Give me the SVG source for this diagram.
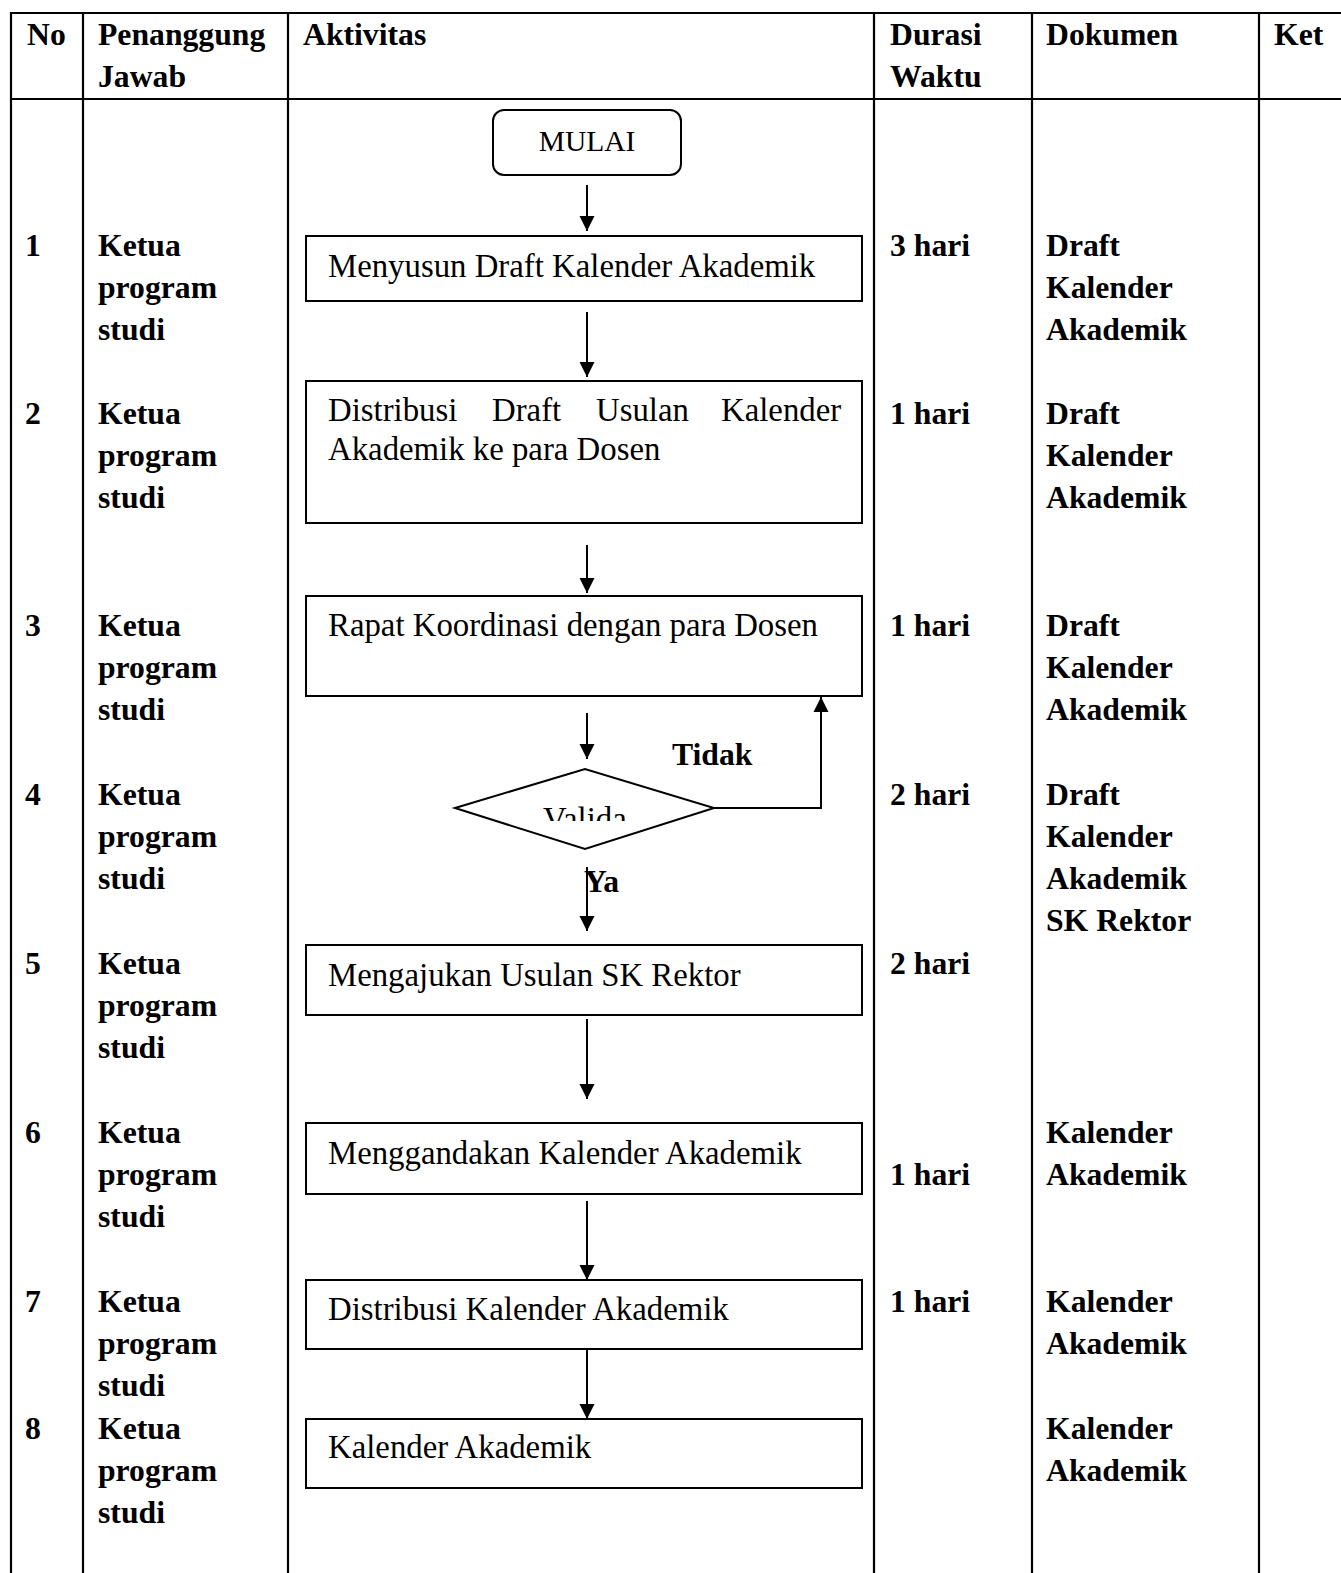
<svg xmlns="http://www.w3.org/2000/svg" width="1341" height="1573" viewBox="0 0 1341 1573">
<style>
.b{font-family:"Liberation Serif","Times New Roman",serif;font-weight:bold;font-size:31.7px;fill:#000}
.r{font-family:"Liberation Serif","Times New Roman",serif;font-size:32.8px;fill:#000}
.tl{stroke:#000;stroke-width:2.2;fill:none}
.box{stroke:#000;stroke-width:2;fill:#fff}
.con{stroke:#000;stroke-width:2;fill:none}
</style>
<defs>
<marker id="ah" markerUnits="userSpaceOnUse" markerWidth="16" markerHeight="16" viewBox="0 0 16 16" refX="15" refY="8" orient="auto">
<path d="M0,0.5 L15,8 L0,15.5 Z" fill="#000"/>
</marker>
<clipPath id="vclip"><rect x="530" y="800" width="110" height="21"/></clipPath>
</defs>
<rect width="1341" height="1573" fill="#fff"/>
<g id="table">
<line class="tl" x1="11" y1="13" x2="1341" y2="13"/>
<line class="tl" x1="11" y1="99" x2="1341" y2="99"/>
<line class="tl" x1="11" y1="12" x2="11" y2="1573"/>
<line class="tl" x1="83" y1="12" x2="83" y2="1573"/>
<line class="tl" x1="288" y1="12" x2="288" y2="1573"/>
<line class="tl" x1="874" y1="12" x2="874" y2="1573"/>
<line class="tl" x1="1032" y1="12" x2="1032" y2="1573"/>
<line class="tl" x1="1259" y1="12" x2="1259" y2="1573"/>
</g>
<g id="header">
<text class="b" x="27" y="45">No</text>
<text class="b" x="98" y="45">Penanggung</text>
<text class="b" x="98" y="87">Jawab</text>
<text class="b" x="303" y="45">Aktivitas</text>
<text class="b" x="890" y="45">Durasi</text>
<text class="b" x="890" y="87">Waktu</text>
<text class="b" x="1046" y="45">Dokumen</text>
<text class="b" x="1274" y="45">Ket</text>
</g>
<g id="col-no">
<text class="b" x="25" y="256">1</text>
<text class="b" x="25" y="424">2</text>
<text class="b" x="25" y="636">3</text>
<text class="b" x="25" y="805">4</text>
<text class="b" x="25" y="974">5</text>
<text class="b" x="25" y="1143">6</text>
<text class="b" x="25" y="1312">7</text>
<text class="b" x="25" y="1439">8</text>
</g>
<g id="col-pj">
<text class="b" x="98" y="256">Ketua</text><text class="b" x="98" y="298">program</text><text class="b" x="98" y="340">studi</text>
<text class="b" x="98" y="424">Ketua</text><text class="b" x="98" y="466">program</text><text class="b" x="98" y="508">studi</text>
<text class="b" x="98" y="636">Ketua</text><text class="b" x="98" y="678">program</text><text class="b" x="98" y="720">studi</text>
<text class="b" x="98" y="805">Ketua</text><text class="b" x="98" y="847">program</text><text class="b" x="98" y="889">studi</text>
<text class="b" x="98" y="974">Ketua</text><text class="b" x="98" y="1016">program</text><text class="b" x="98" y="1058">studi</text>
<text class="b" x="98" y="1143">Ketua</text><text class="b" x="98" y="1185">program</text><text class="b" x="98" y="1227">studi</text>
<text class="b" x="98" y="1312">Ketua</text><text class="b" x="98" y="1354">program</text><text class="b" x="98" y="1396">studi</text>
<text class="b" x="98" y="1439">Ketua</text><text class="b" x="98" y="1481">program</text><text class="b" x="98" y="1523">studi</text>
</g>
<g id="col-durasi">
<text class="b" x="890" y="256">3 hari</text>
<text class="b" x="890" y="424">1 hari</text>
<text class="b" x="890" y="636">1 hari</text>
<text class="b" x="890" y="805">2 hari</text>
<text class="b" x="890" y="974">2 hari</text>
<text class="b" x="890" y="1185">1 hari</text>
<text class="b" x="890" y="1312">1 hari</text>
</g>
<g id="col-dokumen">
<text class="b" x="1046" y="256">Draft</text><text class="b" x="1046" y="298">Kalender</text><text class="b" x="1046" y="340">Akademik</text>
<text class="b" x="1046" y="424">Draft</text><text class="b" x="1046" y="466">Kalender</text><text class="b" x="1046" y="508">Akademik</text>
<text class="b" x="1046" y="636">Draft</text><text class="b" x="1046" y="678">Kalender</text><text class="b" x="1046" y="720">Akademik</text>
<text class="b" x="1046" y="805">Draft</text><text class="b" x="1046" y="847">Kalender</text><text class="b" x="1046" y="889">Akademik</text><text class="b" x="1046" y="931">SK Rektor</text>
<text class="b" x="1046" y="1143">Kalender</text><text class="b" x="1046" y="1185">Akademik</text>
<text class="b" x="1046" y="1312">Kalender</text><text class="b" x="1046" y="1354">Akademik</text>
<text class="b" x="1046" y="1439">Kalender</text><text class="b" x="1046" y="1481">Akademik</text>
</g>
<g id="connectors">
<line class="con" x1="587" y1="185" x2="587" y2="231" marker-end="url(#ah)"/>
<line class="con" x1="587" y1="312" x2="587" y2="377" marker-end="url(#ah)"/>
<line class="con" x1="587" y1="545" x2="587" y2="593" marker-end="url(#ah)"/>
<line class="con" x1="587" y1="713" x2="587" y2="759" marker-end="url(#ah)"/>
<polyline class="con" points="714,808 821,808 821,697" marker-end="url(#ah)"/>
<line class="con" x1="587" y1="867" x2="587" y2="931" marker-end="url(#ah)"/>
<line class="con" x1="587" y1="1019" x2="587" y2="1099" marker-end="url(#ah)"/>
<line class="con" x1="587" y1="1201" x2="587" y2="1280" marker-end="url(#ah)"/>
<line class="con" x1="587" y1="1340" x2="587" y2="1419" marker-end="url(#ah)"/>
<text class="b" x="672" y="765">Tidak</text>
<text class="b" x="584" y="892">Ya</text>
</g>
<g id="mulai">
<rect class="box" x="493" y="110" width="188" height="65" rx="11"/>
<text class="r" x="587" y="151" text-anchor="middle" style="font-size:29.5px">MULAI</text>
</g>
<g id="step1">
<rect class="box" x="306" y="236" width="556" height="65"/>
<text class="r" x="328" y="277">Menyusun Draft Kalender Akademik</text>
</g>
<g id="step2">
<rect class="box" x="306" y="381" width="556" height="142"/>
<text class="r" y="421"><tspan x="328">Distribusi</tspan><tspan x="492">Draft</tspan><tspan x="596">Usulan</tspan><tspan x="721">Kalender</tspan></text>
<text class="r" x="328" y="460">Akademik ke para Dosen</text>
</g>
<g id="step3">
<rect class="box" x="306" y="596" width="556" height="100"/>
<text class="r" x="328" y="636">Rapat Koordinasi dengan para Dosen</text>
</g>
<g id="decision">
<polygon class="box" points="455,808 585,769 714,808 585,849"/>
<text class="r" x="543" y="830" clip-path="url(#vclip)">Valida</text>
</g>
<g id="step5">
<rect class="box" x="306" y="945" width="556" height="70"/>
<text class="r" x="328" y="986">Mengajukan Usulan SK Rektor</text>
</g>
<g id="step6">
<rect class="box" x="306" y="1123" width="556" height="71"/>
<text class="r" x="328" y="1164">Menggandakan Kalender Akademik</text>
</g>
<g id="step7">
<rect class="box" x="306" y="1280" width="556" height="69"/>
<text class="r" x="328" y="1320">Distribusi Kalender Akademik</text>
</g>
<g id="step8">
<rect class="box" x="306" y="1419" width="556" height="69"/>
<text class="r" x="328" y="1458">Kalender Akademik</text>
</g>
</svg>
